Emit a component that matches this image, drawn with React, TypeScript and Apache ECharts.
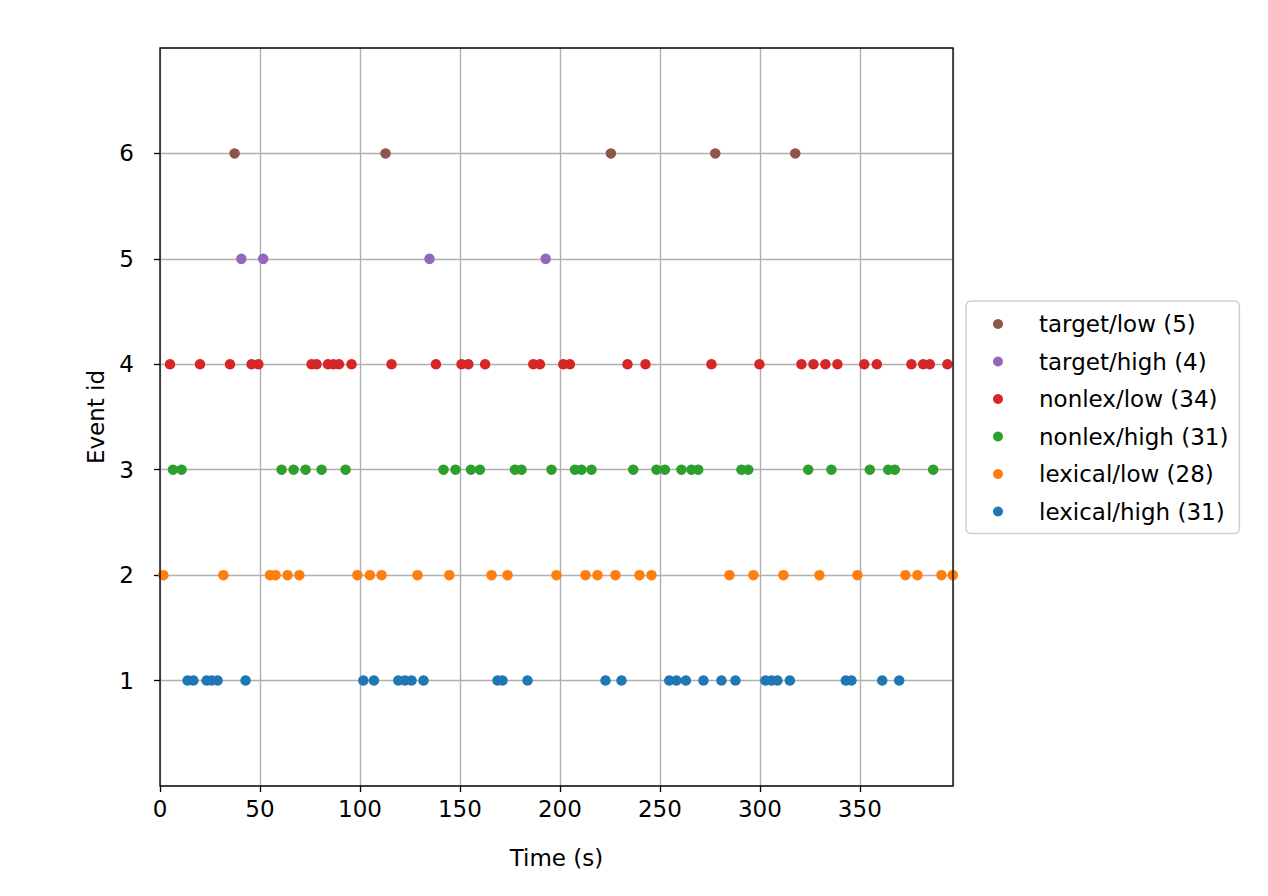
import React, { useEffect, useRef } from "react";
import * as echarts from "echarts";

const seriesNames = [
  "target/low (5)",
  "target/high (4)",
  "nonlex/low (34)",
  "nonlex/high (31)",
  "lexical/low (28)",
  "lexical/high (31)",
];
const eventIds = [6, 5, 4, 3, 2, 1];
const colors = ["#8c564b", "#9467bd", "#d62728", "#2ca02c", "#ff7f0e", "#1f77b4"];

const targetLow = [37.3, 112.8, 225.5, 277.7, 317.7];
const targetHigh = [40.7, 51.6, 134.8, 192.9];
const nonlexLow = [
  5, 20, 35, 45.8, 49.2, 75.8, 78.3, 84, 86.8, 89.5, 95.8, 115.8, 138, 150.8, 154.2,
  162.6, 186.7, 190, 201.7, 205, 233.8, 242.8, 275.8, 299.8, 320.8, 326.8, 332.8,
  338.8, 352.2, 358.5, 375.8, 381.7, 385, 393.8,
];
const nonlexHigh = [
  6.5, 10.8, 60.8, 66.8, 72.8, 80.8, 92.8, 141.8, 147.8, 155.5, 160, 177.5,
  180.8, 195.8, 207.5, 210.8, 215.8, 236.7, 248.3, 252.5, 260.8, 265.8, 269.2,
  290.8, 294.2, 324.2, 335.8, 355, 364.2, 367.5, 386.7,
];
const lexicalLow = [
  1.7, 31.7, 55, 57.8, 63.8, 69.7, 98.7, 105, 110.8, 128.8, 144.7, 165.8, 173.8,
  198.3, 212.8, 218.8, 227.8, 239.8, 245.8, 284.8, 296.8, 311.8, 329.8, 348.8,
  372.8, 378.8, 390.8, 396.5,
];
const lexicalHigh = [
  13.8, 16.7, 23.3, 25.8, 28.8, 42.8, 101.7, 107, 119.2, 122.5, 125.8, 131.8,
  168.8, 171.3, 183.8, 222.8, 230.8, 254.7, 258.3, 263, 271.8, 280.8, 287.8,
  302.8, 305.8, 308.8, 315, 343, 345.8, 361.2, 369.7,
];
const allTimes = [targetLow, targetHigh, nonlexLow, nonlexHigh, lexicalLow, lexicalHigh];

const xTicks = [0, 50, 100, 150, 200, 250, 300, 350];
const yTicks = [1, 2, 3, 4, 5, 6];
const xMax = 396.6;

const FONT = "DejaVu Sans";
const FS = 23;

export default function App() {
  const ref = useRef<HTMLDivElement>(null);
  useEffect(() => {
    if (!ref.current) return;
    const chart = echarts.init(ref.current, null, { renderer: "svg" });
    chart.setOption({
      animation: false,
      backgroundColor: "#ffffff",
      grid: {
        left: 152,
        top: 40,
        width: 793,
        height: 738,
        show: true,
        borderColor: "#000000",
        borderWidth: 1.3,
        backgroundColor: "transparent",
        z: 10,
      },
      xAxis: {
        type: "value",
        min: 0,
        max: xMax,
        interval: 50,
        name: "Time (s)",
        nameLocation: "middle",
        nameGap: 60,
        nameTextStyle: { fontFamily: FONT, fontSize: FS, color: "#000" },
        axisLine: { show: false },
        axisTick: { show: true, inside: false, length: 6, lineStyle: { color: "#000", width: 1.3 } },
        axisLabel: {
          fontFamily: FONT,
          fontSize: FS,
          color: "#000",
          margin: 11,
          showMaxLabel: false,
          formatter: (v: number) => (xTicks.includes(v) ? String(v) : ""),
        },
        splitLine: { show: true, lineStyle: { color: "#b0b0b0", width: 1.4 } },
      },
      yAxis: {
        type: "value",
        min: 0,
        max: 7,
        interval: 1,
        name: "Event id",
        nameLocation: "middle",
        nameGap: 53,
        nameRotate: 90,
        nameTextStyle: { fontFamily: FONT, fontSize: FS, color: "#000" },
        axisLine: { show: false },
        axisTick: {
          show: true,
          inside: false,
          length: 6,
          lineStyle: { color: "#000", width: 1.3 },
          customValues: yTicks,
        },
        axisLabel: {
          fontFamily: FONT,
          fontSize: FS,
          color: "#000",
          margin: 26,
          customValues: yTicks,
        },
        splitLine: { show: true, lineStyle: { color: "#b0b0b0", width: 1.4 } },
      },
      legend: {
        orient: "vertical",
        left: 958,
        top: 293,
        data: seriesNames,
        icon: "circle",
        itemWidth: 20,
        itemHeight: 10,
        itemGap: 11.5,
        padding: [10, 11, 9, 27],
        borderColor: "#d0d0d0",
        borderWidth: 1.5,
        borderRadius: 5,
        backgroundColor: "#ffffff",
        textStyle: {
          fontFamily: FONT,
          fontSize: FS,
          color: "#000",
          lineHeight: 26,
          padding: [0, 0, 0, 26],
        },
      },
      series: seriesNames.map((name, i) => ({
        name,
        type: "scatter",
        symbol: "circle",
        symbolSize: 10.5,
        itemStyle: { color: colors[i], opacity: 1 },
        data: allTimes[i].map((t) => [t, eventIds[i]]),
      })),
    });
    return () => chart.dispose();
  }, []);
  return <div ref={ref} style={{ width: 1252, height: 880 }} />;
}
